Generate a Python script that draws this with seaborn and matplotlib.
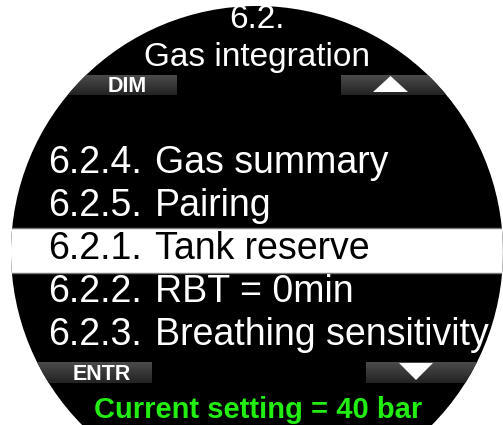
import numpy as np
import matplotlib
matplotlib.use("Agg")
import matplotlib.pyplot as plt
from matplotlib.patches import Circle, Rectangle
from matplotlib.colors import LinearSegmentedColormap
import seaborn as sns

# screen content
header_num = "6.2."
header_title = "Gas integration"
item_numbers = ["6.2.4.", "6.2.5.", "6.2.1.", "6.2.2.", "6.2.3."]
item_names = ["Gas summary", "Pairing", "Tank reserve", "RBT = 0min", "Breathing sensitivity"]
selected_item = 2
left_buttons = ["DIM", "ENTR"]
status_text = "Current setting = 40 bar"

sns.set_theme(style="white")
plt.rcParams["font.family"] = ["Liberation Sans", "DejaVu Sans"]

W, H = 503, 425
fig = plt.figure(figsize=(W / 100, H / 100), dpi=100)
fig.patch.set_facecolor("white")
ax = fig.add_axes([0, 0, 1, 1])
ax.set_xlim(0, W)
ax.set_ylim(H, 0)
ax.axis("off")

# round display
screen = Circle((257, 252), 246, facecolor="black", edgecolor="none", zorder=1)
ax.add_patch(screen)

# header
ax.text(257, 28, header_num, color="white", fontsize=24, ha="center", va="baseline", zorder=5)
ax.text(257, 66, header_title, color="white", fontsize=24, ha="center", va="baseline", zorder=5)

# soft button bars (gradient grey), clipped to the round screen
btn_cmap = LinearSegmentedColormap.from_list("btn", ["#4a4a4a", "#242424"])
grad = np.linspace(0, 1, 20).reshape(-1, 1)
bars = [(0, 177, 75, 95), (341, W, 75, 95), (0, 152, 362, 383), (366, W, 362, 383)]
for x0, x1, y0, y1 in bars:
    im = ax.imshow(grad, extent=(x0, x1, y1, y0), cmap=btn_cmap, aspect="auto", zorder=2)
    im.set_clip_path(screen)

ax.text(127, 92, left_buttons[0], color="white", fontsize=15.5, fontweight="bold",
        ha="center", va="baseline", zorder=5)
ax.text(102, 380, left_buttons[1], color="white", fontsize=15.5, fontweight="bold",
        ha="center", va="baseline", zorder=5)

# arrows
ax.fill([373, 408, 390.5], [92, 92, 76], color="white", lw=0, zorder=5)
ax.fill([399, 433, 416], [363, 363, 380], color="white", lw=0, zorder=5)

# menu list
row_base = 173
row_step = 43
for i, (num, name) in enumerate(zip(item_numbers, item_names)):
    y = row_base + i * row_step
    color = "white"
    if i == selected_item:
        band = Rectangle((0, y - 31), W, 45, facecolor="white", edgecolor="#777777",
                         lw=1, zorder=3)
        ax.add_patch(band)
        band.set_clip_path(screen)
        color = "black"
    t1 = ax.text(48, y, num, color=color, fontsize=27, ha="left", va="baseline", zorder=5)
    t2 = ax.text(155, y, name, color=color, fontsize=27, ha="left", va="baseline", zorder=5)
    t1.set_clip_path(screen)
    t2.set_clip_path(screen)

# status line
st = ax.text(258, 418, status_text, color="#22ee11", fontsize=21, fontweight="bold",
             ha="center", va="baseline", zorder=5)
st.set_clip_path(screen)

fig.savefig("out.png", dpi=100, facecolor="white")
